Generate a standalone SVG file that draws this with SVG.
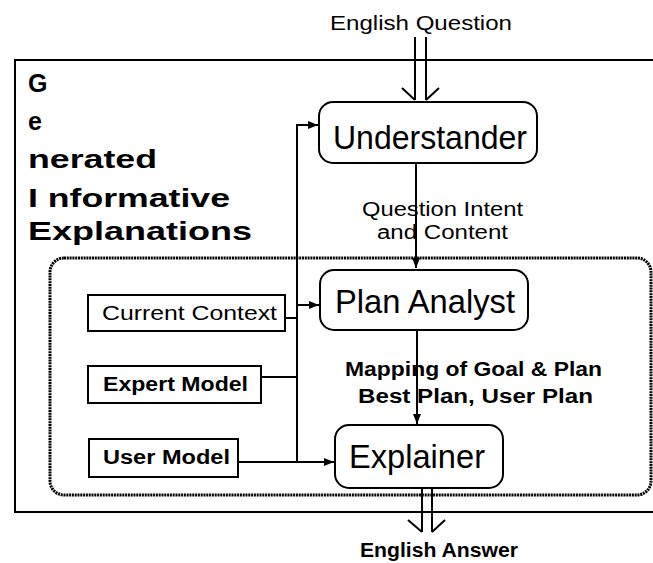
<svg xmlns="http://www.w3.org/2000/svg" width="653" height="563" viewBox="0 0 653 563">
<defs>
<style>
.t{font-family:"Liberation Sans",Arial,sans-serif;fill:#000}
.big{font-size:33px}
.sm{font-size:20px}
.b{font-weight:bold}
.ttl{font-size:25px;font-weight:bold}
.box{fill:#fff;stroke:#000;stroke-width:2}
.ln{fill:none;stroke:#000;stroke-width:2}
</style>
<marker id="ah" markerWidth="10" markerHeight="8" refX="10" refY="4" orient="auto" markerUnits="userSpaceOnUse">
<path d="M0,0 L10,4 L0,8 Z" fill="#000"/>
</marker>
</defs>
<rect width="653" height="563" fill="#fff"/>
<g id="frame">
<path class="ln" d="M653,60 H15 V512 H653"/>
<rect x="50" y="258" width="601" height="237" rx="14" fill="none" stroke="#000" stroke-width="3" stroke-dasharray="2 0.8"/>
</g>
<g id="title">
<text class="t ttl" x="28" y="92">G</text>
<text class="t ttl" x="28" y="130">e</text>
<text class="t ttl" x="28" y="168" textLength="129" lengthAdjust="spacingAndGlyphs">nerated</text>
<text class="t ttl" x="28" y="207" textLength="202" lengthAdjust="spacingAndGlyphs">I nformative</text>
<text class="t ttl" x="28" y="240" textLength="224" lengthAdjust="spacingAndGlyphs">Explanations</text>
</g>
<g id="understander">
<rect class="box" x="319" y="102" width="218" height="61" rx="14"/>
<text class="t big" x="333" y="149" textLength="194" lengthAdjust="spacingAndGlyphs">Understander</text>
</g>
<g id="plan-analyst">
<rect class="box" x="320" y="270" width="208" height="60" rx="14"/>
<text class="t big" x="335" y="313" textLength="180" lengthAdjust="spacingAndGlyphs">Plan Analyst</text>
</g>
<g id="explainer">
<rect class="box" x="335" y="425" width="168" height="63" rx="14"/>
<text class="t big" x="349" y="468" textLength="136" lengthAdjust="spacingAndGlyphs">Explainer</text>
</g>
<g id="current-context">
<rect class="box" x="88" y="295" width="197" height="36"/>
<text class="t sm" x="102" y="320" textLength="175" lengthAdjust="spacingAndGlyphs">Current Context</text>
</g>
<g id="expert-model">
<rect class="box" x="88" y="366" width="173" height="37"/>
<text class="t sm b" x="103" y="391" textLength="145" lengthAdjust="spacingAndGlyphs">Expert Model</text>
</g>
<g id="user-model">
<rect class="box" x="89" y="439" width="149" height="38"/>
<text class="t sm b" x="103" y="464" textLength="127" lengthAdjust="spacingAndGlyphs">User Model</text>
</g>
<g id="connectors">
<path class="ln" d="M415,37 V100 M426,37 V100 M402,88 L415,100 M439,88 L426,100"/>
<path class="ln" d="M422,488 V532 M432,488 V532 M408,520 L422,532 M445,520 L432,532"/>
<path class="ln" d="M416,163 V268" marker-end="url(#ah)"/>
<path class="ln" d="M417,330 V424" marker-end="url(#ah)"/>
<path class="ln" d="M297,462 V125 H318" marker-end="url(#ah)"/>
<path class="ln" d="M297,305 H319" marker-end="url(#ah)"/>
<path class="ln" d="M285,318 H297"/>
<path class="ln" d="M261,377 H297"/>
<path class="ln" d="M238,462 H334" marker-end="url(#ah)"/>
</g>
<g id="labels">
<text class="t sm" x="330" y="30" textLength="182" lengthAdjust="spacingAndGlyphs">English Question</text>
<text class="t sm" x="362" y="216" textLength="161" lengthAdjust="spacingAndGlyphs">Question Intent</text>
<text class="t sm" x="377" y="239" textLength="131" lengthAdjust="spacingAndGlyphs">and Content</text>
<text class="t sm b" x="345" y="376" textLength="257" lengthAdjust="spacingAndGlyphs">Mapping of Goal &amp; Plan</text>
<text class="t sm b" x="358" y="403" textLength="235" lengthAdjust="spacingAndGlyphs">Best Plan, User Plan</text>
<text class="t sm b" x="360" y="557" textLength="158" lengthAdjust="spacingAndGlyphs">English Answer</text>
</g>
</svg>
